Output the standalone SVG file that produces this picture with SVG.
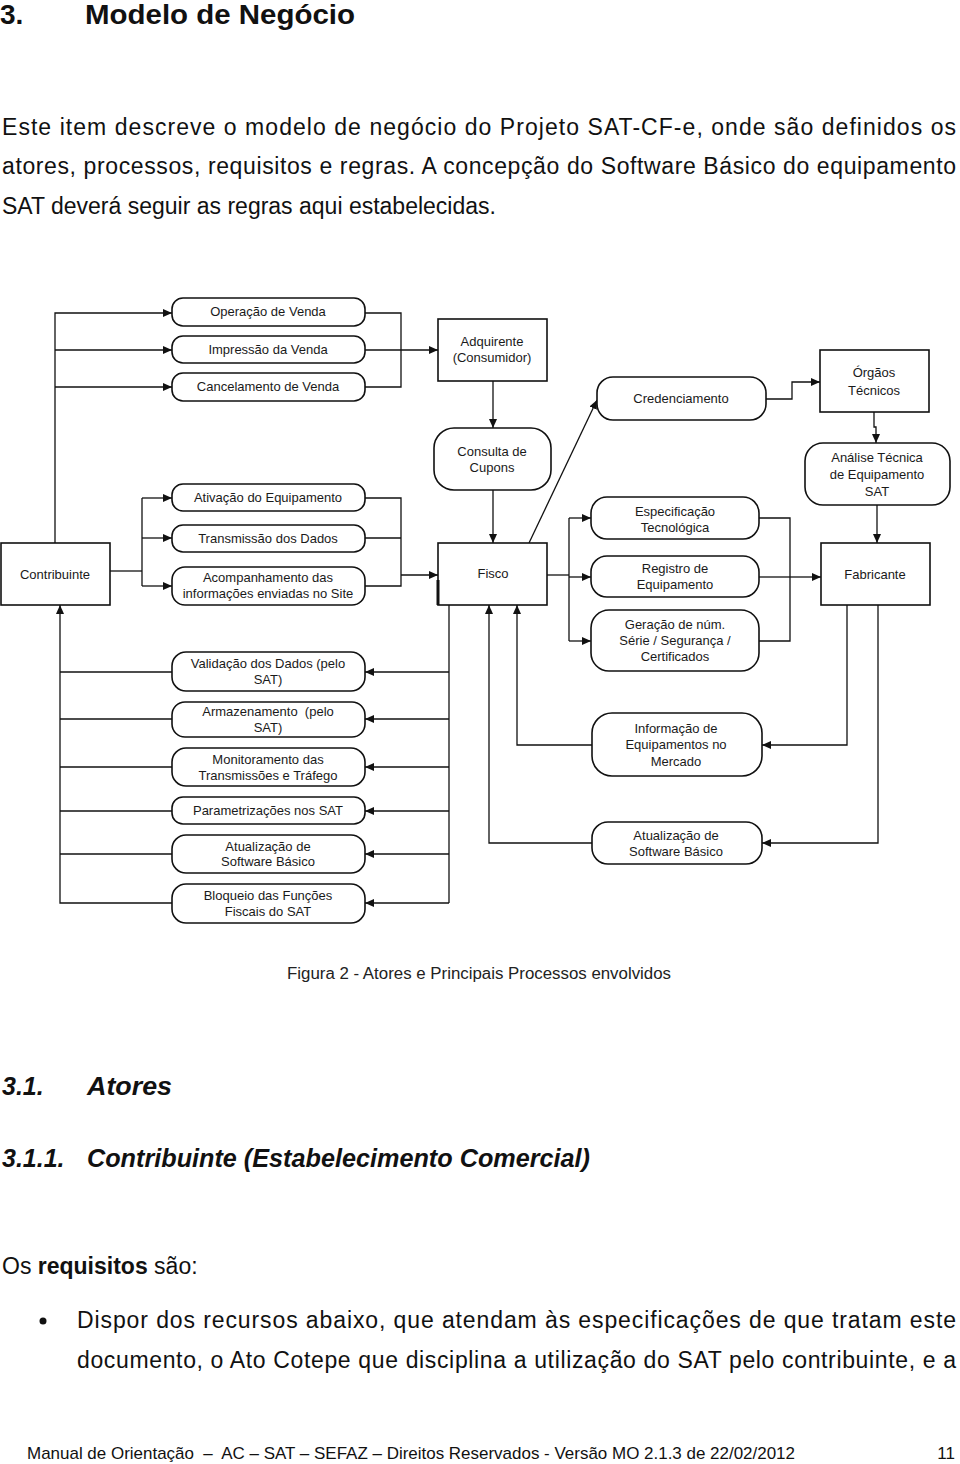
<svg xmlns="http://www.w3.org/2000/svg" width="960" height="1464" viewBox="0 0 960 1464">
<defs>
<marker id="arr" markerWidth="10" markerHeight="8" refX="9" refY="4" orient="auto" markerUnits="userSpaceOnUse">
<path d="M0,0 L9,4 L0,8 z" fill="#111"/>
</marker>
<style>
.box{fill:#fff;stroke:#111;stroke-width:1.6}
.lbl{font-family:"Liberation Sans",Arial,sans-serif;font-size:13px;fill:#1a1a1a;text-anchor:middle}
.ln{fill:none;stroke:#111;stroke-width:1.3}
.ar{fill:none;stroke:#111;stroke-width:1.3;marker-end:url(#arr)}
.body{font-family:"Liberation Sans",Arial,sans-serif;font-size:23px;fill:#111}
.h{font-family:"Liberation Sans",Arial,sans-serif;font-weight:bold;fill:#111}
</style>
</defs>
<rect width="960" height="1464" fill="#fff"/>

<!-- page text -->
<text class="h" x="0" y="24" font-size="28">3.</text>
<text class="h" x="85" y="24" font-size="28" textLength="270" lengthAdjust="spacingAndGlyphs">Modelo de Negócio</text>
<text class="body" x="2" y="135" textLength="954" lengthAdjust="spacing">Este item descreve o modelo de negócio do Projeto SAT-CF-e, onde são definidos os</text>
<text class="body" x="2" y="174" textLength="954" lengthAdjust="spacing">atores, processos, requisitos e regras. A concepção do Software Básico do equipamento</text>
<text class="body" x="2" y="214">SAT deverá seguir as regras aqui estabelecidas.</text>

<text x="287" y="979" font-family="Liberation Sans, Arial, sans-serif" font-size="16" fill="#222" textLength="384" lengthAdjust="spacingAndGlyphs">Figura 2 - Atores e Principais Processos envolvidos</text>

<text class="h" x="2" y="1095" font-size="25" font-style="italic">3.1.</text>
<text class="h" x="87" y="1095" font-size="25" font-style="italic" textLength="85" lengthAdjust="spacingAndGlyphs">Atores</text>
<text class="h" x="2" y="1167" font-size="25" font-style="italic">3.1.1.</text>
<text class="h" x="87" y="1167" font-size="25" font-style="italic" textLength="503" lengthAdjust="spacingAndGlyphs">Contribuinte (Estabelecimento Comercial)</text>

<text class="body" x="2" y="1274">Os <tspan font-weight="bold">requisitos</tspan> são:</text>
<circle cx="43" cy="1321" r="3.5" fill="#111"/>
<text class="body" x="77" y="1328" textLength="879" lengthAdjust="spacing">Dispor dos recursos abaixo, que atendam às especificações de que tratam este</text>
<text class="body" x="77" y="1368" textLength="879" lengthAdjust="spacing">documento, o Ato Cotepe que disciplina a utilização do SAT pelo contribuinte, e a</text>

<text x="27" y="1459" font-family="Liberation Sans, Arial, sans-serif" font-size="17" fill="#111" xml:space="preserve" textLength="768" lengthAdjust="spacingAndGlyphs">Manual de Orientação  –  AC – SAT – SEFAZ – Direitos Reservados - Versão MO 2.1.3 de 22/02/2012</text>
<text x="955" y="1459" font-family="Liberation Sans, Arial, sans-serif" font-size="17" fill="#111" text-anchor="end">11</text>

<!-- connectors -->
<g id="connectors">
<polyline class="ar" points="55,543 55,313 172,313"/>
<line class="ar" x1="55" y1="350" x2="172" y2="350"/>
<line class="ar" x1="55" y1="387" x2="172" y2="387"/>
<polyline class="ln" points="365,313 401,313 401,387 365,387"/>
<line class="ln" x1="365" y1="350" x2="401" y2="350"/>
<line class="ar" x1="401" y1="350" x2="438" y2="350"/>
<line class="ar" x1="493" y1="381" x2="493" y2="428"/>
<line class="ar" x1="493" y1="490" x2="493" y2="543"/>
<polyline class="ln" points="110,571 142,571"/>
<line class="ln" x1="142" y1="498" x2="142" y2="586"/>
<line class="ar" x1="142" y1="498" x2="172" y2="498"/>
<line class="ar" x1="142" y1="538" x2="172" y2="538"/>
<line class="ar" x1="142" y1="586" x2="172" y2="586"/>
<polyline class="ln" points="365,498 401,498 401,586 365,586"/>
<line class="ln" x1="365" y1="538" x2="401" y2="538"/>
<line class="ar" x1="401" y1="575" x2="438" y2="575"/>
<line class="ar" x1="529" y1="543" x2="597" y2="400"/>
<polyline class="ar" points="766,399 792,399 792,382 820,382"/>
<polyline class="ar" points="874,412 874,427 876,427 876,443"/>
<line class="ar" x1="877" y1="505" x2="877" y2="543"/>
<line class="ln" x1="547" y1="575" x2="569" y2="575"/>
<line class="ln" x1="569" y1="518" x2="569" y2="641"/>
<line class="ar" x1="569" y1="518" x2="591" y2="518"/>
<line class="ar" x1="569" y1="577" x2="591" y2="577"/>
<line class="ar" x1="569" y1="641" x2="591" y2="641"/>
<polyline class="ln" points="759,518 790,518 790,641 759,641"/>
<line class="ln" x1="759" y1="577" x2="790" y2="577"/>
<line class="ar" x1="790" y1="577" x2="821" y2="577"/>
<line class="ln" x1="449" y1="605" x2="449" y2="903"/>
<line class="ar" x1="449" y1="672" x2="365" y2="672"/>
<line class="ar" x1="449" y1="719" x2="365" y2="719"/>
<line class="ar" x1="449" y1="767" x2="365" y2="767"/>
<line class="ar" x1="449" y1="811" x2="365" y2="811"/>
<line class="ar" x1="449" y1="854" x2="365" y2="854"/>
<line class="ar" x1="449" y1="903" x2="365" y2="903"/>
<line class="ln" x1="172" y1="672" x2="60" y2="672"/>
<line class="ln" x1="172" y1="719" x2="60" y2="719"/>
<line class="ln" x1="172" y1="767" x2="60" y2="767"/>
<line class="ln" x1="172" y1="811" x2="60" y2="811"/>
<line class="ln" x1="172" y1="854" x2="60" y2="854"/>
<polyline class="ar" points="172,903 60,903 60,605"/>
<polyline class="ar" points="847,605 847,745 762,745"/>
<polyline class="ar" points="592,745 517,745 517,605"/>
<polyline class="ar" points="878,605 878,843 762,843"/>
<polyline class="ar" points="592,843 489,843 489,605"/>
</g>

<!-- nodes -->
<g id="contribuinte"><rect class="box" x="1" y="543" width="109" height="62"/><text class="lbl" x="55" y="579">Contribuinte</text></g>
<g id="operacao"><rect class="box" x="172" y="298" width="193" height="28" rx="11"/><text class="lbl" x="268" y="316">Operação de Venda</text></g>
<g id="impressao"><rect class="box" x="172" y="336" width="193" height="27" rx="11"/><text class="lbl" x="268" y="354">Impressão da Venda</text></g>
<g id="cancelamento"><rect class="box" x="172" y="373" width="193" height="28" rx="11"/><text class="lbl" x="268" y="391">Cancelamento de Venda</text></g>
<g id="adquirente"><rect class="box" x="438" y="319" width="109" height="62"/><text class="lbl" x="492" y="346">Adquirente</text><text class="lbl" x="492" y="362">(Consumidor)</text></g>
<g id="consulta"><rect class="box" x="434" y="428" width="117" height="62" rx="20"/><text class="lbl" x="492" y="456">Consulta de</text><text class="lbl" x="492" y="472">Cupons</text></g>
<g id="fisco"><rect class="box" x="438" y="543" width="109" height="62"/><line x1="438" y1="580" x2="438" y2="605" stroke="#111" stroke-width="3"/><text class="lbl" x="493" y="578">Fisco</text></g>
<g id="credenciamento"><rect class="box" x="597" y="377" width="169" height="43" rx="16"/><text class="lbl" x="681" y="403">Credenciamento</text></g>
<g id="orgaos"><rect class="box" x="820" y="350" width="109" height="62"/><text class="lbl" x="874" y="377">Órgãos</text><text class="lbl" x="874" y="395">Técnicos</text></g>
<g id="analise"><rect class="box" x="805" y="443" width="145" height="62" rx="18"/><text class="lbl" x="877" y="462">Análise Técnica</text><text class="lbl" x="877" y="479">de Equipamento</text><text class="lbl" x="877" y="496">SAT</text></g>
<g id="especificacao"><rect class="box" x="591" y="497" width="168" height="42" rx="16"/><text class="lbl" x="675" y="516">Especificação</text><text class="lbl" x="675" y="532">Tecnológica</text></g>
<g id="registro"><rect class="box" x="591" y="556" width="168" height="41" rx="16"/><text class="lbl" x="675" y="573">Registro de</text><text class="lbl" x="675" y="589">Equipamento</text></g>
<g id="geracao"><rect class="box" x="591" y="610" width="168" height="61" rx="18"/><text class="lbl" x="675" y="629">Geração de núm.</text><text class="lbl" x="675" y="645">Série / Segurança /</text><text class="lbl" x="675" y="661">Certificados</text></g>
<g id="fabricante"><rect class="box" x="821" y="543" width="109" height="62"/><text class="lbl" x="875" y="579">Fabricante</text></g>
<g id="ativacao"><rect class="box" x="172" y="484" width="193" height="27" rx="11"/><text class="lbl" x="268" y="502">Ativação do Equipamento</text></g>
<g id="transmissao"><rect class="box" x="172" y="525" width="193" height="27" rx="11"/><text class="lbl" x="268" y="543">Transmissão dos Dados</text></g>
<g id="acompanhamento"><rect class="box" x="172" y="567" width="193" height="38" rx="13"/><text class="lbl" x="268" y="582">Acompanhamento das</text><text class="lbl" x="268" y="598">informações enviadas no Site</text></g>
<g id="validacao"><rect class="box" x="172" y="652" width="193" height="39" rx="14"/><text class="lbl" x="268" y="668">Validação dos Dados (pelo</text><text class="lbl" x="268" y="684">SAT)</text></g>
<g id="armazenamento"><rect class="box" x="172" y="702" width="193" height="35" rx="13"/><text class="lbl" x="268" y="716" xml:space="preserve">Armazenamento  (pelo</text><text class="lbl" x="268" y="732">SAT)</text></g>
<g id="monitoramento"><rect class="box" x="172" y="748" width="193" height="38" rx="14"/><text class="lbl" x="268" y="764">Monitoramento das</text><text class="lbl" x="268" y="780">Transmissões e Tráfego</text></g>
<g id="parametrizacoes"><rect class="box" x="172" y="797" width="193" height="27" rx="11"/><text class="lbl" x="268" y="815">Parametrizações nos SAT</text></g>
<g id="atualizacao-esq"><rect class="box" x="172" y="835" width="193" height="38" rx="14"/><text class="lbl" x="268" y="851">Atualização de</text><text class="lbl" x="268" y="866">Software Básico</text></g>
<g id="bloqueio"><rect class="box" x="172" y="884" width="193" height="39" rx="14"/><text class="lbl" x="268" y="900">Bloqueio das Funções</text><text class="lbl" x="268" y="916">Fiscais do SAT</text></g>
<g id="informacao"><rect class="box" x="592" y="713" width="170" height="63" rx="20"/><text class="lbl" x="676" y="733">Informação de</text><text class="lbl" x="676" y="749">Equipamentos no</text><text class="lbl" x="676" y="766">Mercado</text></g>
<g id="atualizacao-dir"><rect class="box" x="592" y="822" width="170" height="42" rx="16"/><text class="lbl" x="676" y="840">Atualização de</text><text class="lbl" x="676" y="856">Software Básico</text></g>
</svg>
